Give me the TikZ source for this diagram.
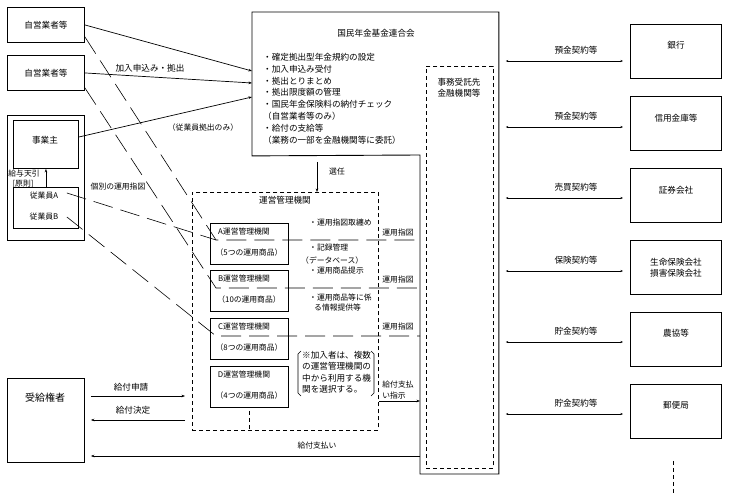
\documentclass[tikz,border=0pt]{standalone}
\usepackage{fontspec}
\setmainfont{Noto Sans CJK JP}
\usepackage{tikz}
\usetikzlibrary{arrows.meta, positioning, calc}

\tikzset{
  box/.style={draw, line width=0.9pt, inner sep=0pt, anchor=north west},
  dbox/.style={draw, line width=0.8pt, dash pattern=on 4pt off 3pt, inner sep=0pt, anchor=north west},
  txt/.style={inner sep=0pt, font=\fontsize{8.6}{11}\selectfont},
  small/.style={inner sep=0pt, font=\fontsize{7.8}{10}\selectfont},
  arr/.style={line width=0.7pt, -{Stealth[length=3.5pt,width=2.6pt]}},
  both/.style={line width=0.7pt, {Stealth[length=2.5pt,width=2pt]}-{Stealth[length=2.5pt,width=2pt]}},
  ldash/.style={line width=0.6pt, dash pattern=on 20pt off 8pt},
}

\begin{document}
\begin{tikzpicture}[x=1pt, y=-1pt]
\useasboundingbox (0,0) rectangle (734,494);

% members and employer
\node[box, minimum width=77pt, minimum height=35pt] (self1) at (7,7) {};
\node[box, minimum width=77pt, minimum height=35pt] (self2) at (7,55) {};
\node[txt] (self1t) at (self1.center) {自営業者等};
\node[txt] (self2t) at (self2.center) {自営業者等};
\node[box, minimum width=77pt, minimum height=125pt] (emp) at (7,115) {};
\node[box, minimum width=65pt, minimum height=48pt] (owner) at (13,120) {};
\node[txt] (ownert) at (45,140) {事業主};
\node[box, minimum width=65pt, minimum height=41pt] (staff) at (13,187) {};
\node[small] (staffA) at (44,196) {従業員A};
\node[small] (staffB) at (44,217) {従業員B};
\draw[arr] (staff.north) -- (owner.south);
\node[small] (tenbiki) at (24,174) {給与天引};
\node[small] (gensoku) at (23,184) {[原則]};

% beneficiary
\node[box, minimum width=77pt, minimum height=84pt] (rec) at (7,378) {};
\node[inner sep=0pt, font=\fontsize{10}{12}\selectfont] (rect) at (45,398) {受給権者};

% federation
\node[box, draw=none, minimum width=246pt, minimum height=143pt] (fed) at (252,12) {};
\draw[line width=0.9pt] (fed.north west) -- (fed.north east) -- ++(0,462) -- (420,474)
  -- (420,155) -- (fed.south west) -- cycle;
\node[txt] (fedt) at (376,33) {国民年金基金連合会};
\foreach \y/\s in {57/・確定拠出型年金規約の設定, 69/・加入申込み受付, 81/・拠出とりまとめ,
  92/・拠出限度額の管理, 104/・国民年金保険料の納付チェック, 116/（自営業者等のみ）,
  128/・給付の支給等, 140/（業務の一部を金融機関等に委託）}
  \node[txt, anchor=west] (fedl\y) at (263,\y) {\s};

% trustee column
\node[dbox, minimum width=67pt, minimum height=402pt] (col) at (426,66) {};
\node[txt, align=center] (colt) at (459,88) {事務受託先\\金融機関等};

% financial institutions
\foreach \nm/\ty in {bank/24, shinkin/96, sec/168, ins/240, agri/312, post/384}
  \node[box, minimum width=91pt, minimum height=54pt] (\nm) at (630,\ty) {};
\node[txt] (bankt) at (676,45) {銀行};
\node[txt] (shinkint) at (676,118) {信用金庫等};
\node[txt] (sect) at (676,190) {証券会社};
\node[txt, align=center] (inst) at (676,267.5) {生命保険会社\\損害保険会社};
\node[txt] (agrit) at (676,333) {農協等};
\node[txt] (postt) at (676,405) {郵便局};
\foreach \nm/\y/\lbl in {bank/61/預金契約等, shinkin/127/預金契約等, sec/198/売買契約等,
  ins/271/保険契約等, agri/342/貯金契約等, post/414/貯金契約等} {
  \draw[both] ($(col.east |- 0,\y)+(12,0)$) -- ($(\nm.west |- 0,\y)+(-7,0)$);
  \node[txt] (\nm c) at (576,\y-11) {\lbl};
}
\draw[line width=0.8pt, dash pattern=on 4pt off 3pt] ($(post.south)+(-3,22)$) -- ($(post.south)+(-3,56)$);

% record keepers
\node[dbox, minimum width=186pt, minimum height=238pt] (mgr) at (192,192) {};
\node[txt] (mgrt) at (285,200) {運営管理機関};
\foreach \nm/\ty/\cnt in {A/223/5つ, B/270/10, C/318/8つ, D/366/4つ} {
  \node[box, minimum width=78pt, minimum height=41pt] (m\nm) at (210,\ty) {};
  \node[small] (m\nm t) at (244,\ty+9) {\nm 運営管理機関};
  \node[small] (m\nm p) at (249,\ty+30) {（\cnt の運用商品）};
}
\draw[line width=0.7pt, dash pattern=on 4pt off 3pt] ($(mD.south)+(0,3)$) -- (mD.south |- mgr.south);
\node[small, anchor=west] (task1) at (309,223) {・運用指図取纏め};
\node[small, anchor=west] (task2) at (309,248) {・記録管理};
\node[small, anchor=west] (task3) at (301,261) {（データベース）};
\node[small, anchor=west] (task4) at (309,271) {・運用商品提示};
\node[small, anchor=west] (task5) at (309,298) {・運用商品等に係};
\node[small, anchor=west] (task6) at (314,308) {る情報提供等};

% note
\draw[line width=0.6pt] (301,351) -- (298,354) -- (298,393) -- (301,396);
\draw[line width=0.6pt] (371,351) -- (374,354) -- (374,393) -- (371,396);
\node[txt, anchor=west] (note1) at (302,355) {※加入者は、複数};
\node[txt, anchor=west] (note2) at (302,366) {の運営管理機関の};
\node[txt, anchor=west] (note3) at (302,378) {中から利用する機};
\node[txt, anchor=west] (note4) at (302,389) {関を選択する。};

% contributions
\draw[arr] (self1.east) -- ($(fed.north west)+(0,59)$);
\draw[arr] (self2.east) -- ($(fed.north west)+(0,71)$);
\draw[arr] ($(owner.north east)+(0,17)$) -- ($(fed.north west)+(0,85)$);
\node[txt] (kanyu) at (150,68) {加入申込み・拠出};
\node[small] (jugyo) at (203,128) {（従業員拠出のみ）};
\draw[arr] (317,162) -- (317,0 |- mgr.north);
\node[small] (sennin) at (337,172) {選任};

% investment instructions
\coordinate (inA) at (216,240);
\coordinate (inB) at (216,288);
\coordinate (inC) at (216,336);
\draw[ldash] ($(self1.south east)+(0,-6)$) -- (inA) -- (420,240);
\draw[ldash] ($(staff.north east)+(-12,6)$) -- (inA);
\draw[ldash] ($(self2.south east)+(0,-3)$) -- (inB) -- (420,288);
\draw[ldash] ($(staff.north east)+(-12,30)$) -- (inC) -- (420,336);
\node[small] (kobetsu) at (118,187) {個別の運用指図};
\foreach \y in {233, 280, 327}
  \node[small] (shizu\y) at (398,\y) {運用指図};

% benefits
\draw[arr] (mgr.east |- 0,401) -- (420,401);
\node[small] (shiji1) at (398,385) {給付支払};
\node[small] (shiji2) at (394,396) {い指示};
\draw[arr] ($(rec.north east)+(6,18)$) -- ($(mgr.west |- 0,396)+(-7,0)$);
\draw[arr] ($(mgr.west |- 0,420)+(-7,0)$) -- ($(rec.north east)+(6,42)$);
\draw[arr] (420,456) -- ($(rec.north east)+(6,78)$);
\node[txt] (shinsei) at (131,387) {給付申請};
\node[txt] (kettei) at (133,410) {給付決定};
\node[small] (shiharai) at (317,446) {給付支払い};
\end{tikzpicture}
\end{document}
